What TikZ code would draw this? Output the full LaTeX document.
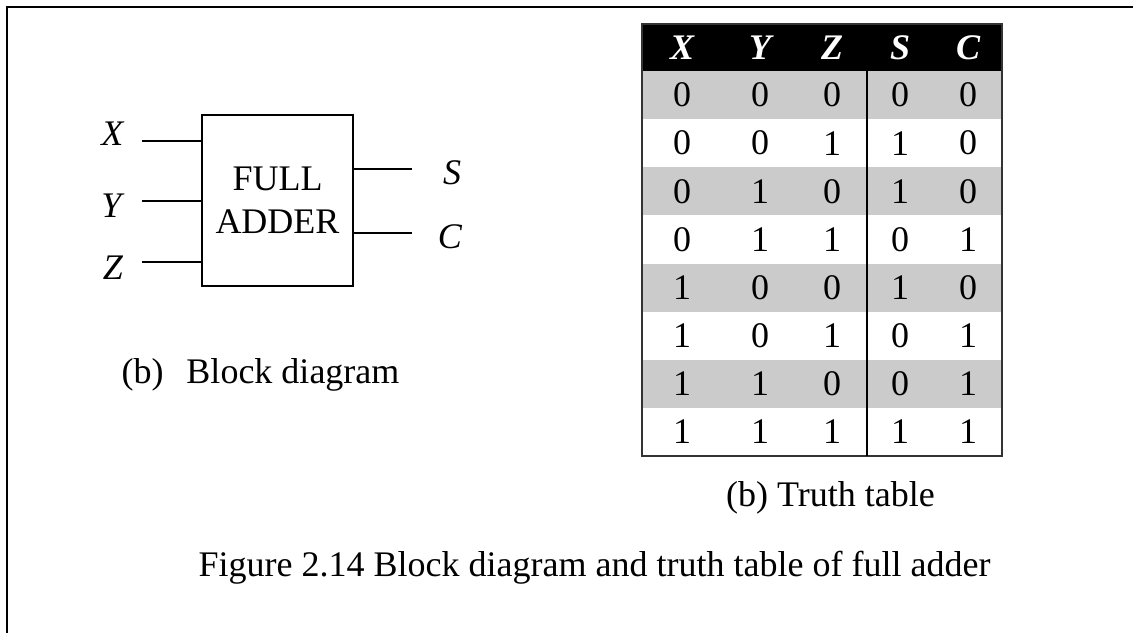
\documentclass[tikz,border=0pt]{standalone}
\usepackage{fontspec}
\setmainfont{Liberation Serif}
\usetikzlibrary{positioning}
\definecolor{rowgray}{HTML}{CBCBCB}
\tikzset{
  txt/.style={font=\fontsize{18}{21.5}\selectfont, inner sep=0pt},
  head/.style={txt, text=white, font=\fontsize{18}{21.5}\selectfont\bfseries\itshape},
  wire/.style={line width=1pt},
}

\begin{document}
\begin{tikzpicture}[x=0.5pt,y=-0.5pt]
\useasboundingbox (0,0) rectangle (1133,633);
% frame
\draw[line width=1.25pt] (7,633) -- (7,7) -- (1133,7);
% block diagram
\node[draw, wire, txt, align=center, minimum width=75.5pt, minimum height=85.5pt] (fa) at (277.5,200.5) {FULL\\ADDER};
\foreach \nm/\yy/\ly in {X/141/134, Y/201/206, Z/262/268} {
  \coordinate (in\nm) at (142,\yy);
  \draw[wire] (in\nm) -- (in\nm -| fa.west);
  \node[txt] (lab\nm) at (113,\ly) {\textit{\nm}};
}
\foreach \nm/\yy/\ly/\lx in {S/169/173/452, C/233/237/450} {
  \coordinate (out\nm) at (412,\yy);
  \draw[wire] (out\nm -| fa.east) -- (out\nm);
  \node[txt] (lab\nm) at (\lx,\ly) {\textit{\nm}};
}
\node[txt] (capblock) at (260.5,375) {(b)\hspace{11.5pt}Block diagram};
% truth table
\fill[black] (642,24) rectangle (1002,71);
\foreach \r in {1,3,5,7}
  \fill[rowgray] (642,{71+48.125*(\r-1)}) rectangle (1002,{71+48.125*\r});
\draw[line width=0.8pt, black!80] (642,24) rectangle (1002,456);
\draw[line width=0.8pt] (867,71) -- (867,456);
\foreach \h [count=\c] in {X,Y,Z,S,C} {
  \pgfmathsetmacro{\cx}{{682,760,832,900,968}[\c-1]}
  \node[head] (h\c) at (\cx,47.5) {\h};
}
\foreach \row [count=\r] in {{0,0,0,0,0},{0,0,1,1,0},{0,1,0,1,0},{0,1,1,0,1},
                             {1,0,0,1,0},{1,0,1,0,1},{1,1,0,0,1},{1,1,1,1,1}} {
  \foreach \v [count=\c] in \row {
    \pgfmathsetmacro{\cx}{{682,760,832,900,968}[\c-1]}
    \node[txt] (t\r-\c) at (\cx,{71+48.125*(\r-0.5)}) {\v};
  }
}
\node[txt] (captable) at (830.5,498) {(b) Truth table};
\node[txt] (figcap) at (594.5,568) {Figure 2.14 Block diagram and truth table of full adder};
\end{tikzpicture}
\end{document}
